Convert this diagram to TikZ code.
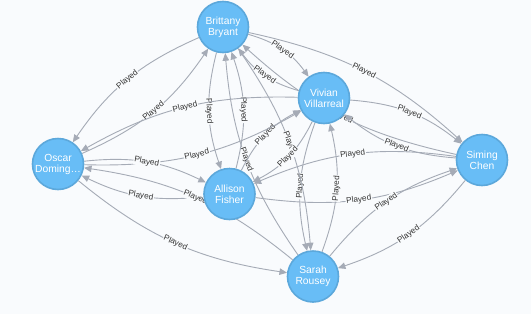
\documentclass[tikz,border=0pt]{standalone}
\usepackage{fontspec}
\setmainfont{Liberation Sans}
\usetikzlibrary{arrows.meta}
\definecolor{bgc}{HTML}{F9FBFD}
\definecolor{nodefill}{HTML}{68BDF6}
\definecolor{nodeline}{HTML}{5CA8DB}
\definecolor{edgec}{HTML}{A5ABB6}
\definecolor{labc}{HTML}{333333}
\pgfdeclarelayer{bglayer}
\pgfdeclarelayer{edgelayer}
\pgfsetlayers{bglayer,edgelayer,main}
\tikzset{
  person/.style={circle, fill=nodefill, draw=nodeline, line width=1.6pt,
    minimum size=51pt, inner sep=0pt, text=white, align=center,
    font=\fontsize{10.3}{11}\selectfont},
  rel/.style={draw=edgec, line width=0.9pt, -{Triangle[length=7.5pt,width=6.5pt]}},
  lbl/.style={midway, sloped, fill=bgc, inner sep=0.8pt, text=labc,
    font=\fontsize{8.2}{9}\selectfont}
}
\begin{document}
\begin{tikzpicture}[x=1pt,y=1pt]
\begin{pgfonlayer}{bglayer}
\fill[bgc] (0,0) rectangle (531,-314);
\end{pgfonlayer}
\useasboundingbox (0,0) rectangle (531,-314);
\node[person] (B) at (223,-27) {Brittany\\Bryant};
\node[person] (V) at (324,-98) {Vivian\\Villarreal};
\node[person] (S) at (482,-160) {Siming\\Chen};
\node[person] (O) at (58,-164) {Oscar\\Doming…};
\node[person] (A) at (229.5,-194) {Allison\\Fisher};
\node[person] (R) at (313,-276.5) {Sarah\\Rousey};
\begin{pgfonlayer}{edgelayer}
\draw[rel] (B) to[bend right=16] node[lbl]{Played} (O);
\draw[rel] (O) to[bend right=16] node[lbl]{Played} (B);
\draw[rel] (B) to[bend left=19] node[lbl]{Played} (V);
\draw[rel] (V) to[bend left=19] node[lbl]{Played} (B);
\draw[rel] (B) to[bend left=15] node[lbl]{Played} (S);
\draw[rel] (S) to[bend left=15] node[lbl]{Played} (B);
\draw[rel] (V) to[bend left=17] node[lbl]{Played} (S);
\draw[rel] (S) to[bend left=17] node[lbl]{Played} (V);
\draw[rel] (S) to[bend right=15.5] node[lbl]{Played} (A);
\draw[rel] (A) to[bend right=15.5] node[lbl]{Played} (S);
\draw[rel] (R) to[bend left=16] node[lbl]{Played} (S);
\draw[rel] (S) to[bend left=16] node[lbl]{Played} (R);
\draw[rel] (V) to[bend right=16.5] node[lbl]{Played} (R);
\draw[rel] (R) to[bend right=16.5] node[lbl]{Played} (V);
\draw[rel] (B) to[bend left=15] node[lbl]{Played} (R);
\draw[rel] (R) to[bend left=15] node[lbl]{Played} (B);
\draw[rel] (B) to[bend right=16.5] node[lbl]{Played} (A);
\draw[rel] (A) to[bend right=16.5] node[lbl]{Played} (B);
\draw[rel] (A) to[bend left=18] node[lbl]{Played} (V);
\draw[rel] (V) to[bend left=18] node[lbl]{Played} (A);
\draw[rel] (V) to[bend right=15.5] node[lbl]{Played} (O);
\draw[rel] (O) to[bend right=15.5] node[lbl]{Played} (V);
\draw[rel] (O) to[bend left=16] node[lbl]{Played} (A);
\draw[rel] (A) to[bend left=16] node[lbl]{Played} (O);
\draw[rel] (R) to[bend right=15.5] node[lbl]{Played} (O);
\draw[rel] (O) to[bend right=15.5] node[lbl]{Played} (R);
\end{pgfonlayer}
\end{tikzpicture}
\end{document}
